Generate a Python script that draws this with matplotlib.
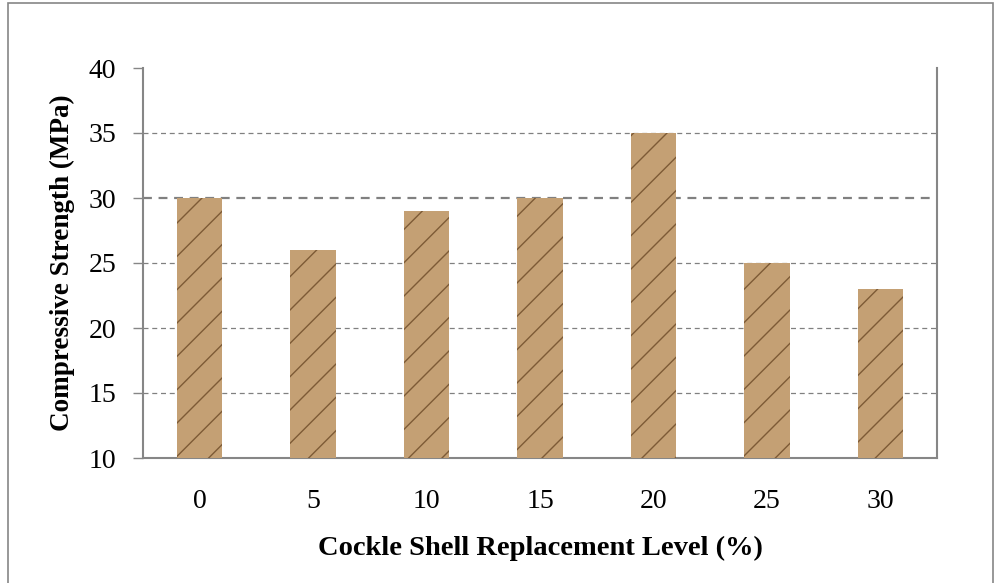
import numpy as np
import matplotlib.pyplot as plt
from matplotlib.patches import Rectangle

# data
levels = ["0", "5", "10", "15", "20", "25", "30"]
strength = [30, 26, 29, 30, 35, 25, 23]
yticks = [10, 15, 20, 25, 30, 35, 40]

W, H = 997, 583
fig = plt.figure(figsize=(W / 100, H / 100), dpi=100)
ax = fig.add_axes([143 / W, (H - 458) / H, (937 - 143) / W, (458 - 68) / H])

x = np.arange(len(levels))
ax.bar(x, [s - 10 for s in strength], bottom=10, width=0.4,
       color="#c4a074", edgecolor="#7d5a36", linewidth=0, hatch="/", zorder=3)

ax.set_xlim(-0.5, len(levels) - 0.5)
ax.set_ylim(10, 40)
ax.set_yticks(yticks)
ax.set_xticks(x)
ax.set_xticklabels(levels)

font = "Liberation Serif"
for lab in ax.get_xticklabels() + ax.get_yticklabels():
    lab.set_fontfamily(font)
    lab.set_fontsize(20)

# dashed grid, no line at the top
for y in yticks[1:-1]:
    lw = 1.6 if y == 30 else 0.9
    ax.axhline(y, color="#808080", linestyle=(0, (4, 3)), linewidth=lw, zorder=1)

ax.spines["top"].set_visible(False)
for s in ["left", "right", "bottom"]:
    ax.spines[s].set_color("#868686")
    ax.spines[s].set_linewidth(1.5)

ax.tick_params(axis="y", length=7.2, color="#868686", width=1, pad=12)
ax.tick_params(axis="x", length=0, pad=22)

ax.set_ylabel("Compressive Strength (MPa)", fontfamily=font, fontweight="bold",
              fontsize=19.5, labelpad=10)
ax.set_xlabel("Cockle Shell Replacement Level (%)", fontfamily=font,
              fontweight="bold", fontsize=20.5, labelpad=16)

# outer chart frame
fig.patches.append(Rectangle((8 / W, -0.05), (993 - 8) / W, (H - 3) / H + 0.05,
                             transform=fig.transFigure, fill=False,
                             edgecolor="#868686", linewidth=1.2))

plt.savefig("out.png", dpi=100)
